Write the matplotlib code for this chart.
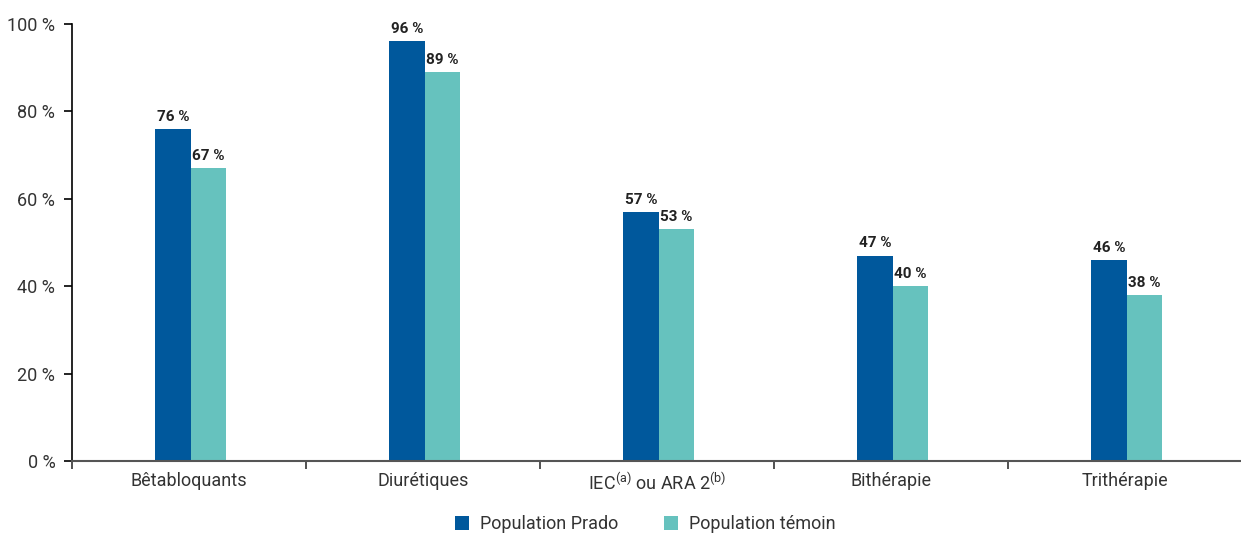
import matplotlib
matplotlib.use('Agg')
import matplotlib.pyplot as plt
import numpy as np

# données
categories = ['Bêtabloquants', 'Diurétiques', 'IEC$^{(a)}$ ou ARA 2$^{(b)}$',
              'Bithérapie', 'Trithérapie']
prado = [76, 96, 57, 47, 46]
temoin = [67, 89, 53, 40, 38]
series_names = ['Population Prado', 'Population témoin']
yticks = [0, 20, 40, 60, 80, 100]

FONT = ['Roboto', 'DejaVu Sans']
plt.rcParams['font.family'] = FONT
plt.rcParams['mathtext.fontset'] = 'custom'
plt.rcParams['mathtext.rm'] = 'Roboto'
plt.rcParams['mathtext.it'] = 'Roboto'
plt.rcParams['mathtext.default'] = 'rm'

c_prado = '#00589c'
c_temoin = '#66c2be'

fig = plt.figure(figsize=(12.41, 5.36), dpi=100)
ax = fig.add_axes([72 / 1241, 75 / 536, 1170 / 1241, (461 - 24) / 536])

x = np.arange(len(categories))
w = 0.152
b1 = ax.bar(x - w / 2 + 0.008, prado, w, color=c_prado, label=series_names[0])
b2 = ax.bar(x + w / 2 + 0.008, temoin, w, color=c_temoin, label=series_names[1])

for bars, vals in ((b1, prado), (b2, temoin)):
    for r, v in zip(bars, vals):
        ax.text(r.get_x() + r.get_width() / 2, v + 1.2, f'{v} %',
                ha='center', va='bottom', fontsize=11, fontweight='bold',
                color='#222222')

ax.set_xlim(-0.5, len(categories) - 0.5)
ax.set_ylim(0, 100)

# axes
for s in ('top', 'right'):
    ax.spines[s].set_visible(False)
ax.spines['left'].set_color('black')
ax.spines['left'].set_linewidth(1.2)
ax.spines['bottom'].set_color('#555555')
ax.spines['bottom'].set_linewidth(1.5)

ax.set_yticks(yticks)
ax.set_yticklabels([f'{t} %' for t in yticks], fontsize=13, color='#333333')
ax.tick_params(axis='y', length=6, width=1.2, direction='out', pad=6)

# graduations x entre les catégories
ax.set_xticks(np.arange(len(categories) + 1) - 0.5)
ax.set_xticklabels([])
ax.tick_params(axis='x', which='major', length=6, width=1.2, color='#333333')
ax.set_xticks(x, minor=True)
ax.set_xticklabels(categories, minor=True, fontsize=13, color='#333333')
ax.tick_params(axis='x', which='minor', length=0, pad=8)

leg = fig.legend(handles=[b1, b2], labels=series_names, loc='lower center',
                 bbox_to_anchor=(0.52, -0.025), ncol=2, frameon=False,
                 fontsize=13, handlelength=0.8, handleheight=0.8,
                 columnspacing=2.5, handletextpad=0.6)
for t in leg.get_texts():
    t.set_color('#333333')

fig.savefig('out.png', dpi=100)
